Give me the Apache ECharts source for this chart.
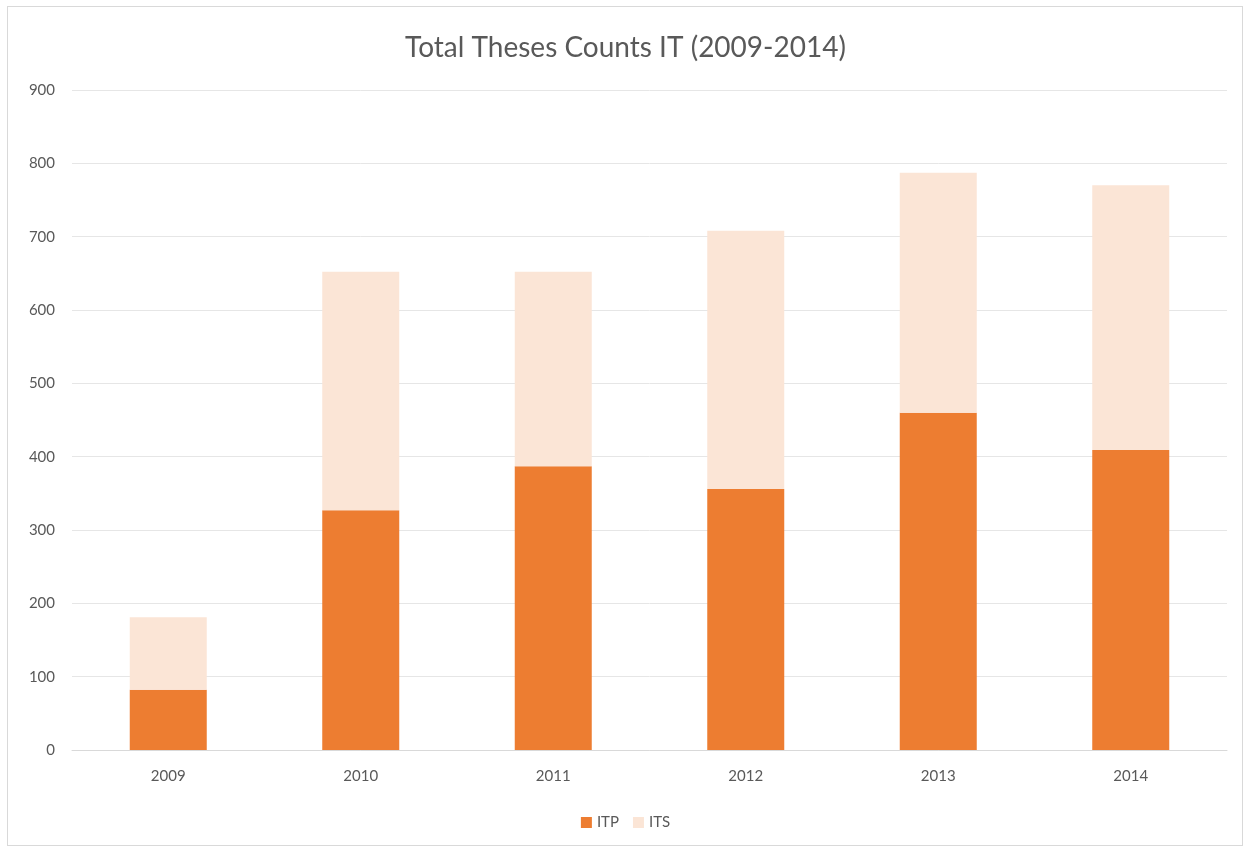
<!DOCTYPE html>
<html>
<head>
<meta charset="utf-8">
<script src="https://cdn.jsdelivr.net/npm/echarts@6/dist/echarts.min.js"></script>
<style>
html,body{margin:0;padding:0;background:#fff;}
#frame{position:absolute;left:7px;top:6px;width:1236px;height:840px;border:1px solid #d9d9d9;box-sizing:border-box;}
#chart{position:absolute;left:0;top:0;width:1251px;height:852px;}
</style>
</head>
<body>
<div id="frame"></div>
<div id="chart"></div>
<script>
const categories = ['2009','2010','2011','2012','2013','2014'];
const itpValues = [82, 327, 387, 356, 460, 409];
const itsValues = [99, 325, 265, 352, 327, 361];
const yTicks = [0,100,200,300,400,500,600,700,800,900];

const chart = echarts.init(document.getElementById('chart'), null, {renderer:'canvas'});
const font = 'Lato, "Open Sans", sans-serif';
chart.setOption({
  backgroundColor: 'transparent',
  animation: false,
  title: {
    text: 'Total Theses Counts IT (2009-2014)',
    left: 'center', top: 29,
    textStyle: {fontFamily: font, fontSize: 28, fontWeight: 'normal', color: '#595959'}
  },
  legend: {
    data: ['ITP','ITS'],
    bottom: 17, left: 'center',
    itemWidth: 11, itemHeight: 11, itemGap: 14,
    icon: 'rect',
    textStyle: {fontFamily: font, fontSize: 15, color: '#595959'}
  },
  grid: {left: 72, right: 24, top: 90, bottom: 102, containLabel: false},
  xAxis: {
    type: 'category',
    data: categories,
    axisLine: {lineStyle: {color: '#d9d9d9'}},
    axisTick: {show: false},
    axisLabel: {fontFamily: font, fontSize: 15, color: '#595959', margin: 19}
  },
  yAxis: {
    type: 'value',
    min: yTicks[0], max: yTicks[yTicks.length-1], interval: 100,
    axisLine: {show: false},
    axisTick: {show: false},
    splitLine: {lineStyle: {color: '#e6e6e6'}},
    axisLabel: {fontFamily: font, fontSize: 15, color: '#595959', margin: 17}
  },
  series: [
    {name: 'ITP', type: 'bar', stack: 'total', data: itpValues, barWidth: '40%',
     itemStyle: {color: '#ED7D31'}},
    {name: 'ITS', type: 'bar', stack: 'total', data: itsValues, barWidth: '40%',
     itemStyle: {color: '#FBE5D6'}}
  ]
});
</script>
</body>
</html>
